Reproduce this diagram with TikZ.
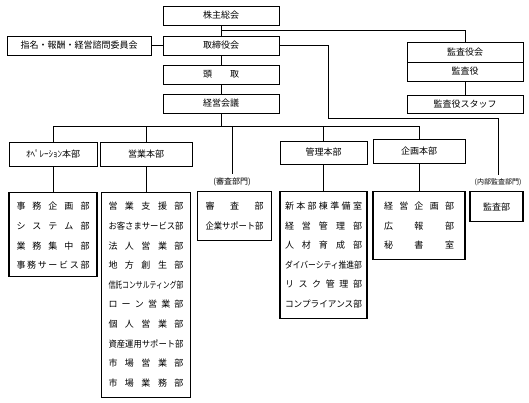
\documentclass[tikz,border=0pt]{standalone}
\usepackage{fontspec}
\setmainfont{Noto Sans CJK JP}
\usepackage{graphicx}
\usetikzlibrary{calc}

\newcommand{\fitrow}[1]{\resizebox{\linewidth}{\height}{#1}}
\ExplSyntaxOn
\cs_new:Npn \orgc_distchar:n #1 {#1\hfill}
\NewDocumentCommand{\distrow}{m}{\tl_map_function:nN {#1} \orgc_distchar:n \unskip}
\ExplSyntaxOff

\tikzset{
  box/.style={draw, line width=1pt, minimum height=19pt, inner sep=0pt},
  subbox/.style={draw, line width=1.3pt, inner sep=0pt, anchor=north},
  row/.style={text width=#1, align=center, inner sep=0pt},
  conn/.style={line width=1pt},
}

\begin{document}
\begin{tikzpicture}[x=1pt, y=-1pt, font=\fontsize{9}{11}\selectfont]
    \useasboundingbox (0,0) rectangle (529,402);

    \node[box, minimum width=116pt] (kabu) at (221,15.5) {株主総会};
    \node[box, minimum width=116pt] (tori) at (221,45.5) {取締役会};
    \node[box, minimum width=116pt] (tou) at (221,74.5) {頭\hspace{2em}取};
    \node[box, minimum width=116pt] (kaigi) at (221,103.5) {経営会議};
    \node[box, minimum width=144pt] (shimei) at (79,45.5) {指名・報酬・経営諮問委員会};
    \node[box, minimum width=116pt, minimum height=20pt] (kansakai) at (465,52) {監査役会};
    \node[box, minimum width=116pt] (kansayaku) at (465,71.5) {監査役};
    \node[box, minimum width=116pt, minimum height=18pt] (staff) at (465,104) {監査役スタッフ};

    \node[box, minimum width=88pt, minimum height=24pt] (oper) at (53,154) {ｵﾍﾟﾚｰｼｮﾝ本部};
    \node[box, minimum width=92pt, minimum height=24pt] (eigyo) at (146,154) {営業本部};
    \node[box, minimum width=87pt, minimum height=23pt] (kanri) at (323.5,152.5) {管理本部};
    \node[box, minimum width=92pt, minimum height=24pt] (kikaku) at (419,151) {企画本部};
    \node[font=\fontsize{8}{9}\selectfont] (shinsa-lbl) at (232,182) {(審査部門)};
    \node[font=\fontsize{7}{8}\selectfont] (naibu-lbl) at (498,182) {(内部監査部門)};

    \node[subbox, minimum width=88pt, minimum height=84pt] (oper-sub) at (53,192) {};
    \node[subbox, minimum width=89pt, minimum height=205pt] (eigyo-sub) at (146,192) {};
    \node[subbox, minimum width=74pt, minimum height=49pt] (shinsa-sub) at (234.5,191) {};
    \node[subbox, minimum width=87pt, minimum height=127pt] (kanri-sub) at (323.5,191) {};
    \node[subbox, minimum width=92pt, minimum height=68pt] (kikaku-sub) at (419,191) {};
    \node[subbox, minimum width=53pt, minimum height=30pt] (kansabu) at (496.5,191) {監査部};

    \foreach \t [count=\i from 0] in {\distrow{事務企画部}, \distrow{システム部}, \distrow{業務集中部}, \distrow{事務サービス部}}
    {
    \node[row=73pt] at ($(oper-sub.north)+(0,14.5+19.6*\i)$) {\t};
    }
    \foreach \t [count=\i from 0] in {\distrow{営業支援部}, \fitrow{お客さまサービス部}, \distrow{法人営業部}, \distrow{地方創生部}, \fitrow{信託コンサルティング部}, \distrow{ローン営業部}, \distrow{個人営業部}, \fitrow{資産運用サポート部}, \distrow{市場営業部}, \distrow{市場業務部}}
    {
    \node[row=75pt] at ($(eigyo-sub.north)+(0,14.5+19.6*\i)$) {\t};
    }
    \foreach \t [count=\i from 0] in {\distrow{審査部}, \fitrow{企業サポート部}}
    {
    \node[row=58pt] at ($(shinsa-sub.north)+(0,15+19.6*\i)$) {\t};
    }
    \foreach \t [count=\i from 0] in {\distrow{新本部棟準備室}, \distrow{経営管理部}, \distrow{人材育成部}, \fitrow{ダイバーシティ推進部}, \distrow{リスク管理部}, \fitrow{コンプライアンス部}}
    {
    \node[row=77pt] at ($(kanri-sub.north)+(0,15+19.6*\i)$) {\t};
    }
    \foreach \t [count=\i from 0] in {\distrow{経営企画部}, \distrow{広報部}, \distrow{秘書室}}
    {
    \node[row=70pt] at ($(kikaku-sub.north)+(0,15+19.6*\i)$) {\t};
    }

    \draw[conn] (kabu) -- (tori);
    \draw[conn] (shimei) -- (tori);
    \draw[conn] (tori) -- (tou);
    \draw[conn] (tou) -- (kaigi);
    \coordinate (kabumid) at ($(kabu.south)!0.5!(tori.north)$);
    \draw[conn] (kabumid) -| (kansakai.north);
    \draw[conn] (kansayaku) -- (staff);

    \coordinate (hub) at ($(kaigi.south)+(0,13)$);
    \draw[conn] (kaigi.south) -- (hub);
    \foreach \n in {oper,eigyo,kanri,kikaku,shinsa-lbl}
    {
    \draw[conn] (hub) -| (\n.north);
    }
    \foreach \n in {oper,eigyo,kanri,kikaku}
    {
    \draw[conn] (\n) -- (\n-sub);
    }

    \coordinate (bend) at (328,118);
    \draw[conn] (tori.east) -| (bend) -| (naibu-lbl.north);
\end{tikzpicture}
\end{document}
